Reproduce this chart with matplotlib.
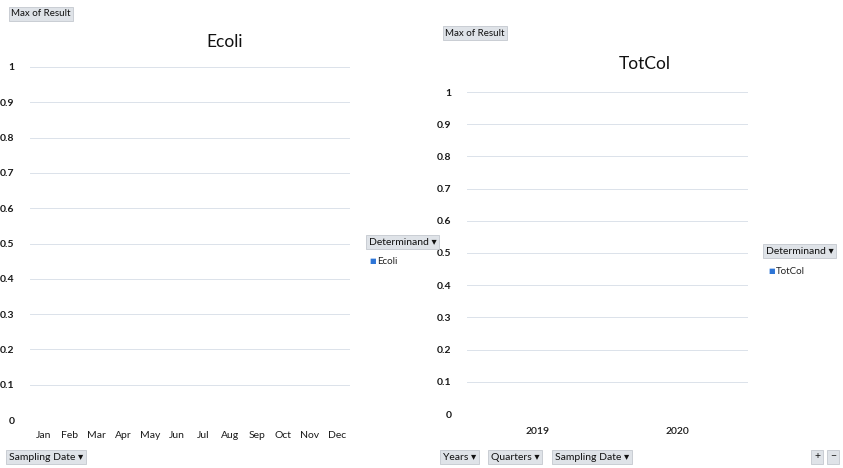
import numpy as np
import matplotlib
matplotlib.use("Agg")
import matplotlib.pyplot as plt

plt.rcParams['font.family'] = ['Lato', 'DejaVu Sans']

## DATA
months = ['Jan', 'Feb', 'Mar', 'Apr', 'May', 'Jun', 'Jul', 'Aug', 'Sep', 'Oct', 'Nov', 'Dec']
ecoli_max = [np.nan] * 12          # no results recorded
years = ['2019', '2020']
totcol_max = [np.nan, np.nan]      # no results recorded
y_ticks = [0, 0.1, 0.2, 0.3, 0.4, 0.5, 0.6, 0.7, 0.8, 0.9, 1]
#

W, H = 843, 468
fig = plt.figure(figsize=(W / 100, H / 100), dpi=100)
fig.patch.set_facecolor('white')

grid_col = '#dbe2ea'
bar_col = '#2e75d6'
btn_face = '#dfe3e8'
btn_edge = '#c3c8ce'


def px_axes(x0, y0, x1, y1):
    # axes from pixel box (top-left origin)
    return fig.add_axes([x0 / W, 1 - y1 / H, (x1 - x0) / W, (y1 - y0) / H])


def style_axes(ax, cats, vals, title, title_xy, xweight='normal'):
    x = np.arange(len(cats))
    ax.bar(x, vals, width=0.6, color=bar_col)
    ax.set_xlim(-0.5, len(cats) - 0.5)
    ax.set_ylim(0, 1)
    ax.set_yticks(y_ticks)
    ax.set_yticklabels([('%g' % v) for v in y_ticks], fontsize=7.5, fontweight='bold', color='#1a1a1a')
    ax.set_xticks(x)
    ax.set_xticklabels(cats, fontsize=7.5, fontweight=xweight, color='#1a1a1a')
    ax.tick_params(length=0, pad=8)
    ax.tick_params(axis='y', pad=11)
    ax.yaxis.grid(True, color=grid_col, linewidth=0.7)
    ax.set_axisbelow(True)
    for s in ax.spines.values():
        s.set_visible(False)
    fig.text(title_xy[0] / W, 1 - title_xy[1] / H, title, fontsize=12.5,
             ha='center', va='center', color='#111111')


def button(x, y, label, size=7.5):
    fig.text(x / W, 1 - y / H, label, fontsize=size, ha='left', va='center', color='#111111',
             bbox=dict(boxstyle='square,pad=0.25', facecolor=btn_face, edgecolor=btn_edge, linewidth=0.6))


def legend_entry(x, y, label):
    fig.text(x / W, 1 - y / H, '\u25a0', fontsize=5, ha='left', va='center', color=bar_col)
    fig.text((x + 8) / W, 1 - y / H, label, fontsize=7, ha='left', va='center', color='#222222')


## LEFT CHART - ECOLI BY MONTH
ax1 = px_axes(30, 67, 350, 420)
style_axes(ax1, months, ecoli_max, 'Ecoli', (225, 42))
button(11, 14, 'Max of Result', size=7)
button(9, 457, 'Sampling Date \u25be')
button(369, 242, 'Determinand \u25be')
legend_entry(369, 261, 'Ecoli')
#

## RIGHT CHART - TOTCOL BY YEAR
ax2 = px_axes(467, 92, 748, 414)
style_axes(ax2, years, totcol_max, 'TotCol', (645, 64), xweight='semibold')
ax2.tick_params(axis='x', pad=9)
button(445, 33, 'Max of Result', size=7)
button(443, 457, 'Years \u25be')
button(491, 457, 'Quarters \u25be')
button(555, 457, 'Sampling Date \u25be')
button(766, 251, 'Determinand \u25be')
legend_entry(768, 271, 'TotCol')
button(814, 457, '+')
button(830, 457, '\u2212')
#

fig.savefig('out.png', dpi=100)
